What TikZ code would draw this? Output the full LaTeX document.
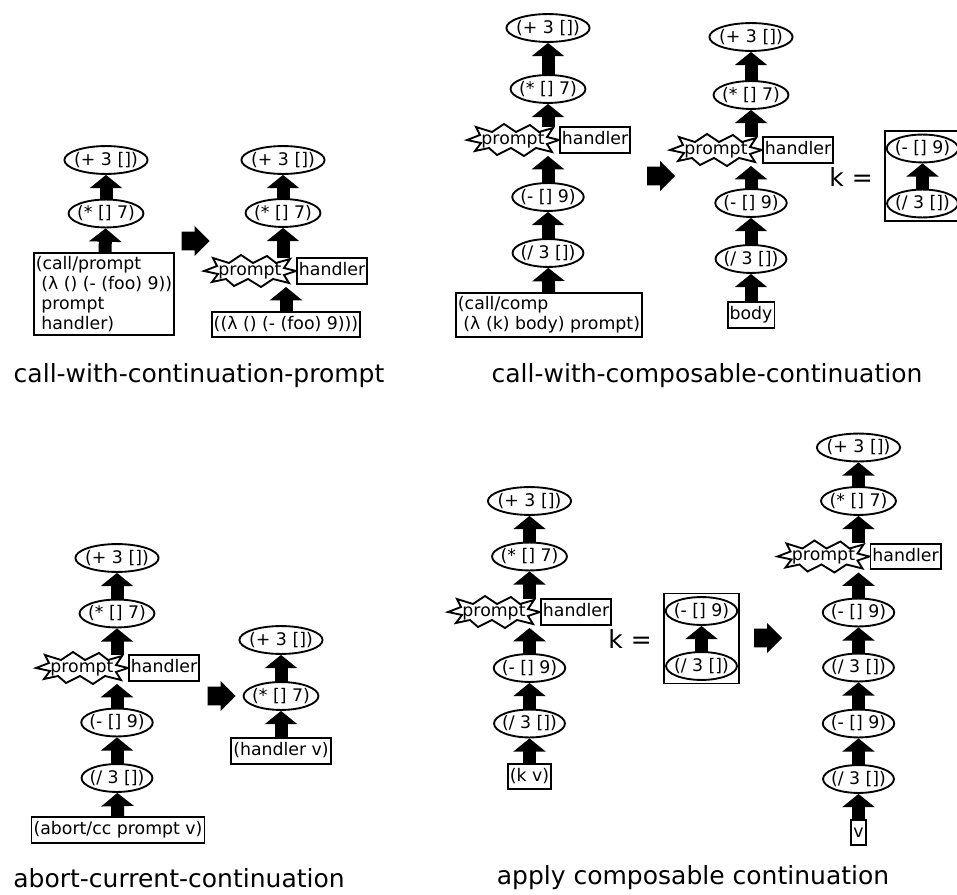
\documentclass[tikz,border=0pt]{standalone}
\usepackage{fontspec}
\setmainfont{DejaVu Sans}
\usetikzlibrary{shapes.geometric,shapes.arrows,arrows.meta,fit,backgrounds}

\tikzset{
  frame/.style={draw, line width=1.4pt, fill=white, inner xsep=1.5pt, inner ysep=3pt,
    text height=10pt, text depth=3pt, font=\fontsize{13}{15}\selectfont},
  framelines/.style={draw, line width=1.4pt, fill=white, inner xsep=1.5pt, inner ysep=2.5pt,
    align=left, font=\fontsize{13}{15}\selectfont},
  frameoval/.style={draw, ellipse, line width=1.4pt, fill=white, inner xsep=-1.8pt, inner ysep=1.6pt,
    font=\fontsize{13}{15}\selectfont},
  burstline/.style={draw, line width=1.4pt, fill=white, line join=miter},
  burst/.style={inner sep=0pt, font=\fontsize{13}{15}\selectfont},
  lift/.style={line width=9.75pt, -{Triangle[width=24pt,length=10pt]}, shorten <=-2pt},
  goes/.style={single arrow, fill=black, minimum height=21pt, inner xsep=0pt, inner ysep=6.8pt,
    single arrow head extend=4.3pt},
  caption/.style={font=\fontsize{18.75}{22}\selectfont},
  keq/.style={font=\fontsize{18.75}{22}\selectfont, inner sep=0pt, anchor=east}
}

% prompt marker: #1 name, #2 x, #3 y (centre); also gives #1-n, #1-s, #1-e
\newcommand{\promptburst}[3]{%
  \draw[burstline, shift={(#2,#3)}]
    (-46,0) -- (-33,-5) -- (-37,-13) -- (-21,-8) -- (-9,-16) -- (3,-8)
    -- (17,-15) -- (26,-8) -- (40,-12) -- (34,-3) -- (46,0) -- (34,4)
    -- (39,12) -- (23,8) -- (11,16) -- (-2,8) -- (-16,15) -- (-24,8)
    -- (-38,11) -- (-32,3) -- cycle;
  \node[burst] (#1) at (#2,#3) {prompt};
  \coordinate (#1-n) at (#2,#3-16);
  \coordinate (#1-s) at (#2,#3+16);
  \coordinate (#1-e) at (#2+46,#3);
}

\begin{document}
\begin{tikzpicture}[x=0.75pt, y=-0.75pt]

\useasboundingbox (0,0) rectangle (957,895);

% =========================
% CALL-WITH-CONTINUATION-PROMPT
% =========================
\node[frameoval] (a1) at (106,160) {(+ 3 [])};
\node[frameoval] (a2) at (106,213.5) {(* [] 7)};
\node[framelines] (a3) at (104,294)
{(call/prompt\\ ~(λ () (- (foo) 9))\\ ~prompt\\ ~handler)};

\node[goes] (t1) at (191,241) {};

\node[frameoval] (b1) at (283,160) {(+ 3 [])};
\node[frameoval] (b2) at (283,213) {(* [] 7)};
\promptburst{bp}{250}{271}
\node[frame, anchor=west] (bh) at (bp-e) {handler};
\node[frame] (b3) at (286,324.5) {((λ () (- (foo) 9)))};

\node[caption] (cap1) at (199,376) {call-with-continuation-prompt};

% =========================
% CALL-WITH-COMPOSABLE-CONTINUATION
% =========================
\node[frameoval] (c1) at (548,28) {(+ 3 [])};
\node[frameoval] (c2) at (548,89) {(* [] 7)};
\promptburst{cp}{513}{140}
\node[frame, anchor=west] (ch) at (cp-e) {handler};
\node[frameoval] (c3) at (548,197) {(- [] 9)};
\node[frameoval] (c4) at (548,253) {(/ 3 [])};
\node[framelines] (c5) at (549,315) {(call/comp\\ ~(λ (k) body) prompt)};

\node[goes] (t2) at (656.5,176) {};

\node[frameoval] (d1) at (751,37) {(+ 3 [])};
\node[frameoval] (d2) at (751,95) {(* [] 7)};
\promptburst{dp}{716}{150}
\node[frame, anchor=west] (dh) at (dp-e) {handler};
\node[frameoval] (d3) at (751,203) {(- [] 9)};
\node[frameoval] (d4) at (751,259) {(/ 3 [])};
\node[frame] (d5) at (751,315) {body};

% captured continuation
\node[frameoval] (k1) at (922.5,148.5) {(- [] 9)};
\node[frameoval] (k2) at (922.5,203.5) {(/ 3 [])};
\begin{scope}[on background layer]
\node[draw, line width=1.4pt, fit=(k1)(k2), inner xsep=0.5pt, inner ysep=2pt] (kbox1) {};
\end{scope}
\node[keq] (keq1) at (873,177) {k =};

\node[caption] (cap2) at (707,376) {call-with-composable-continuation};

% =========================
% ABORT-CURRENT-CONTINUATION
% =========================
\node[frameoval] (e1) at (117,558) {(+ 3 [])};
\node[frameoval] (e2) at (117,613.5) {(* [] 7)};
\promptburst{ep}{82}{668}
\node[frame, anchor=west] (eh) at (ep-e) {handler};
\node[frameoval] (e3) at (117,722.5) {(- [] 9)};
\node[frameoval] (e4) at (117,778) {(/ 3 [])};
\node[frame] (e5) at (118,830) {(abort/cc prompt v)};

\node[goes] (t3) at (217,696) {};

\node[frameoval] (f1) at (281,640) {(+ 3 [])};
\node[frameoval] (f2) at (281,696) {(* [] 7)};
\node[frame] (f3) at (281,751) {(handler v)};

\node[caption] (cap3) at (179,878) {abort-current-continuation};

% =========================
% APPLY COMPOSABLE CONTINUATION
% =========================
\node[frameoval] (g1) at (529.5,501) {(+ 3 [])};
\node[frameoval] (g2) at (529.5,556.5) {(* [] 7)};
\promptburst{gp}{494}{612}
\node[frame, anchor=west] (gh) at (gp-e) {handler};
\node[frameoval] (g3) at (529.5,668) {(- [] 9)};
\node[frameoval] (g4) at (529.5,723.5) {(/ 3 [])};
\node[frame] (g5) at (529.5,776.5) {(k v)};

% captured continuation
\node[frameoval] (m1) at (701.5,611) {(- [] 9)};
\node[frameoval] (m2) at (701.5,666) {(/ 3 [])};
\begin{scope}[on background layer]
\node[draw, line width=1.4pt, fit=(m1)(m2), inner xsep=0.5pt, inner ysep=2pt] (kbox2) {};
\end{scope}
\node[keq] (keq2) at (652,639) {k =};

\node[goes] (t4) at (763.5,638) {};

\node[frameoval] (h1) at (858.5,447.5) {(+ 3 [])};
\node[frameoval] (h2) at (858.5,501) {(* [] 7)};
\promptburst{hp}{823.5}{556.5}
\node[frame, anchor=west] (hh) at (hp-e) {handler};
\node[frameoval] (h3) at (858.5,612.5) {(- [] 9)};
\node[frameoval] (h4) at (858.5,667.5) {(/ 3 [])};
\node[frameoval] (h5) at (858.5,723.5) {(- [] 9)};
\node[frameoval] (h6) at (858.5,779) {(/ 3 [])};
\node[frame] (h7) at (858.5,832.5) {v};

\node[caption] (cap4) at (693,878) {apply composable continuation};

% =========================
% STACK ARROWS (behind the frames)
% =========================
\begin{scope}[on background layer]
\draw[lift] (a3) -- (a2);
\draw[lift] (a2) -- (a1);

\draw[lift] (b3) -- (b3 |- bp-s);
\draw[lift] (b2 |- bp-n) -- (b2);
\draw[lift] (b2) -- (b1);

\draw[lift] (c5) -- (c4);
\draw[lift] (c4) -- (c3);
\draw[lift] (c3) -- (c3 |- cp-s);
\draw[lift] (c2 |- cp-n) -- (c2);
\draw[lift] (c2) -- (c1);

\draw[lift] (d5) -- (d4);
\draw[lift] (d4) -- (d3);
\draw[lift] (d3) -- (d3 |- dp-s);
\draw[lift] (d2 |- dp-n) -- (d2);
\draw[lift] (d2) -- (d1);

\draw[lift] (k2) -- (k1);

\draw[lift] (e5) -- (e4);
\draw[lift] (e4) -- (e3);
\draw[lift] (e3) -- (e3 |- ep-s);
\draw[lift] (e2 |- ep-n) -- (e2);
\draw[lift] (e2) -- (e1);

\draw[lift] (f3) -- (f2);
\draw[lift] (f2) -- (f1);

\draw[lift] (g5) -- (g4);
\draw[lift] (g4) -- (g3);
\draw[lift] (g3) -- (g3 |- gp-s);
\draw[lift] (g2 |- gp-n) -- (g2);
\draw[lift] (g2) -- (g1);

\draw[lift] (m2) -- (m1);

\draw[lift] (h7) -- (h6);
\draw[lift] (h6) -- (h5);
\draw[lift] (h5) -- (h4);
\draw[lift] (h4) -- (h3);
\draw[lift] (h3) -- (h3 |- hp-s);
\draw[lift] (h2 |- hp-n) -- (h2);
\draw[lift] (h2) -- (h1);
\end{scope}

\end{tikzpicture}
\end{document}
